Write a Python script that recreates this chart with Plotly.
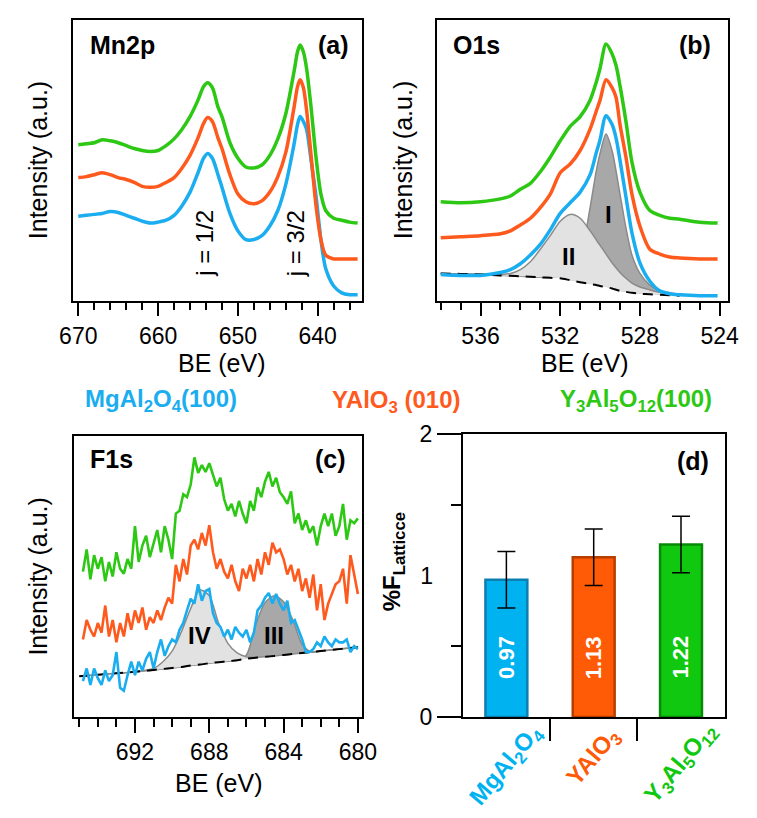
import plotly.graph_objects as go

W, H = 757, 818
FONT = "Liberation Sans, Arial, sans-serif"
BLUE = "#1AADEF"
ORANGE = "#FF5A1E"
GREEN = "#2CC814"
DARK_FILL = "#A8A8A8"
LIGHT_FILL = "#E2E2E2"
OUTLINE = "#8A8A8A"

# ---------------- (a) Mn2p ----------------
MN_BE = [670, 669, 668, 667, 666, 665, 664, 663, 662, 661, 660, 659, 658, 657, 656, 655,
         654.3, 653.8, 653.2, 652.5, 652, 651, 650, 649, 648, 647, 646, 645, 644, 643,
         642.5, 642.2, 641.8, 641.4, 640.8, 640.2, 639.6, 639, 638, 637, 636, 635]
MN_BLUE = [87, 88, 89, 90, 92, 91, 88, 85, 82, 80, 81, 83, 88, 98, 112, 132,
           147, 152, 147, 130, 117, 90, 72, 63, 63, 67, 77, 93, 120, 160,
           183, 190, 185, 177, 143, 107, 63, 33, 15, 8, 6, 6]
MN_ORANGE = [127, 128, 130, 132, 130, 127, 125, 122, 118, 117, 118, 122, 127, 137, 150, 168,
             183, 189, 185, 168, 157, 130, 110, 102, 100, 103, 112, 128, 153, 198,
             222, 228, 220, 197, 147, 97, 63, 47, 43, 43, 43, 43]
MN_GREEN = [161, 162, 163, 166, 165, 163, 160, 157, 155, 154, 155, 160, 167, 177, 190, 207,
            221, 225, 220, 200, 190, 163, 147, 138, 137, 140, 150, 167, 193, 235,
            258, 264, 257, 240, 197, 147, 110, 93, 85, 83, 81, 80]

# ---------------- (b) O1s ----------------
O1S_BE = [538, 537, 536, 535, 534.5, 534, 533.5, 533, 532.5, 532, 531.5, 531, 530.5, 530.2,
          530, 529.7, 529.4, 529.2, 529, 528.7, 528.4, 528, 527.5, 527, 526.5, 526, 525, 524.1]
O1S_BLUE = [27, 26, 26, 29, 32, 38, 47, 58, 73, 90, 101, 112, 130, 152,
            166, 191, 182, 168, 145, 107, 70, 39, 20, 10, 7, 6, 5, 5]
O1S_ORANGE = [65, 66, 67, 69, 72, 78, 85, 96, 110, 132, 141, 155, 177, 195,
              207, 228, 220, 210, 182, 148, 110, 77, 53, 48, 45, 44, 43, 43]
O1S_GREEN = [102, 101, 102, 105, 108, 115, 121, 133, 148, 165, 180, 190, 207, 225,
             240, 265, 255, 243, 222, 185, 143, 112, 93, 88, 85, 84, 81, 80]
O1S_FIT_BE = [538, 537, 536, 535, 534.5, 534, 533.5, 533, 532.5, 532, 531.5, 531, 530.5, 530.2,
              530, 529.7, 529.4, 529, 528.7, 528.4, 528, 527.5, 527, 526.5, 526]
O1S_BG = [28, 27.5, 27, 26, 25.5, 25, 24.5, 24, 23.5, 23, 21, 19, 17, 16,
          15, 14, 12.5, 10, 9, 8, 7, 6.5, 6, 5.5, 5]
O1S_PEAK_II = [28, 27.5, 27.2, 27, 28, 32, 40, 53, 67, 82, 89, 85, 72, 63,
               57, 48, 39, 29, 23, 18, 14, 11, 8.5, 7, 5.5]
O1S_PEAK_I = [28, 27.5, 27, 26, 25.5, 25, 24.5, 24, 24, 25, 30, 45, 96, 133,
              152, 172, 155, 110, 75, 47, 28, 16, 10, 8, 6]

# ---------------- (c) F1s ----------------
F1S_START, F1S_STEP = 694.8, 0.2
F1S_GREEN = [150, 173, 142, 167, 153, 165, 140, 160, 145, 170, 153, 148, 163, 153, 197, 160, 177, 187, 165, 180,
             193, 170, 197, 183, 163, 210, 213, 230, 227, 240, 268, 252, 260, 253, 262, 250, 238, 247, 225, 213,
             220, 207, 223, 210, 200, 223, 213, 237, 227, 243, 253, 238, 247, 232, 227, 220, 233, 200, 210, 193,
             203, 190, 197, 177, 197, 210, 197, 210, 187, 197, 220, 183, 203, 200, 205]
F1S_ORANGE = [80, 100, 90, 83, 97, 87, 115, 83, 100, 77, 97, 83, 107, 90, 110, 97, 113, 90, 103, 97,
              110, 100, 113, 123, 117, 157, 140, 163, 147, 177, 183, 173, 190, 177, 198, 170, 153, 163, 150, 143,
              157, 140, 130, 153, 143, 157, 140, 163, 147, 170, 157, 180, 170, 173, 163, 147, 157, 140, 153, 130,
              143, 123, 147, 110, 137, 100, 117, 127, 137, 140, 153, 117, 167, 147, 127]
F1S_BLUE = [37, 50, 33, 50, 40, 33, 48, 37, 43, 67, 30, 27, 43, 57, 43, 57, 48, 60, 67, 50,
            67, 80, 63, 73, 80, 77, 90, 97, 110, 122, 117, 137, 120, 130, 132, 107, 97, 93, 83, 90,
            80, 93, 87, 83, 90, 77, 87, 110, 115, 123, 128, 117, 127, 117, 110, 120, 97, 100, 90, 80,
            67, 67, 70, 77, 73, 83, 77, 73, 80, 77, 77, 80, 67, 73, 70]
F1S_BE = [round(F1S_START - F1S_STEP * i, 1) for i in range(len(F1S_BLUE))]
F1S_FIT_BE = [695, 694, 693, 692, 691.5, 691, 690.5, 690, 689.5, 689, 688.5, 688, 687.5, 687,
              686.5, 686, 685.5, 685, 684.5, 684, 683.5, 683, 682.5, 682, 681, 680]
F1S_BG = [42, 43.5, 45, 46.5, 47.5, 48.5, 49.5, 50.5, 51.5, 53, 54, 55.5, 56.5, 57.5,
          58.5, 60, 61, 62, 63, 64, 65, 66, 67, 68, 70, 72]
F1S_PEAK_IV = [42, 43.5, 45, 46.5, 48, 50, 57, 68, 88, 112, 131, 125, 97, 76,
               66, 62, 61.5, 62, 63, 64, 65, 66, 67, 68, 70, 72]
F1S_PEAK_III = [42, 43.5, 45, 46.5, 47.5, 48.5, 49.5, 50.5, 51.5, 53, 54, 55.5, 56.5, 57.5,
                58.5, 64, 95, 118, 125, 119, 100, 75, 67, 68, 70, 72]

# ---------------- (d) bars ----------------
CATS = ["MgAl2O4", "YAlO3", "Y3Al5O12"]
CAT_LABELS = ["MgAl<sub>2</sub>O<sub>4</sub>", "YAlO<sub>3</sub>", "Y<sub>3</sub>Al<sub>5</sub>O<sub>12</sub>"]
F_LATTICE = [0.97, 1.13, 1.22]
F_ERR = [0.2, 0.2, 0.2]
BAR_COLORS = ["#00B2F0", "#FF5A05", "#10C810"]
BAR_EDGES = ["#0A7FB0", "#B83E00", "#078A07"]
Y_TICKS_D = [0, 1, 2]
SEPARATORS = [0.5, 1.5]

LEGEND = ["MgAl<sub>2</sub>O<sub>4</sub>(100)", "YAlO<sub>3</sub> (010)", "Y<sub>3</sub>Al<sub>5</sub>O<sub>12</sub>(100)"]
SERIES_COLORS = [BLUE, ORANGE, GREEN]

fig = go.Figure()


def line(x, y, color, width, ax, shape="spline", dash=None):
    fig.add_trace(go.Scatter(x=x, y=y, mode="lines", xaxis=ax[0], yaxis=ax[1],
                             line=dict(color=color, width=width, shape=shape, dash=dash, smoothing=0.8),
                             showlegend=False, hoverinfo="skip"))


def filled(x, base, y, fillcolor, ax):
    fig.add_trace(go.Scatter(x=x, y=base, mode="lines", xaxis=ax[0], yaxis=ax[1],
                             line=dict(width=0, shape="spline", smoothing=0.8),
                             showlegend=False, hoverinfo="skip"))
    fig.add_trace(go.Scatter(x=x, y=y, mode="lines", xaxis=ax[0], yaxis=ax[1], fill="tonexty",
                             fillcolor=fillcolor,
                             line=dict(color=OUTLINE, width=1.5, shape="spline", smoothing=0.8),
                             showlegend=False, hoverinfo="skip"))


# (a)
for ys, c in zip([MN_BLUE, MN_ORANGE, MN_GREEN], SERIES_COLORS):
    line(MN_BE, ys, c, 3.5, ("x", "y"))

# (b)
filled(O1S_FIT_BE, O1S_BG, O1S_PEAK_I, DARK_FILL, ("x2", "y2"))
filled(O1S_FIT_BE, O1S_BG, O1S_PEAK_II, LIGHT_FILL, ("x2", "y2"))
line(O1S_FIT_BE, O1S_BG, "black", 2, ("x2", "y2"), dash="10px,7px")
for ys, c in zip([O1S_BLUE, O1S_ORANGE, O1S_GREEN], SERIES_COLORS):
    line(O1S_BE, ys, c, 3.5, ("x2", "y2"))

# (c)
filled(F1S_FIT_BE, F1S_BG, F1S_PEAK_III, DARK_FILL, ("x3", "y3"))
filled(F1S_FIT_BE, F1S_BG, F1S_PEAK_IV, LIGHT_FILL, ("x3", "y3"))
line(F1S_FIT_BE, F1S_BG, "black", 2, ("x3", "y3"), dash="10px,7px")
for ys, c in zip([F1S_BLUE, F1S_ORANGE, F1S_GREEN], SERIES_COLORS):
    line(F1S_BE, ys, c, 2.6, ("x3", "y3"), shape="linear")

# (d)
fig.add_trace(go.Bar(x=CATS, y=F_LATTICE, width=0.48, xaxis="x4", yaxis="y4",
                     marker=dict(color=BAR_COLORS, line=dict(color=BAR_EDGES, width=2.5)),
                     error_y=dict(type="data", array=F_ERR, color="black", thickness=1.5, width=9),
                     showlegend=False, hoverinfo="skip"))
# empty helper traces so that the overlay axes (category separators, "1" label) get drawn
fig.add_trace(go.Scatter(x=[], y=[], xaxis="x5", yaxis="y4", showlegend=False, hoverinfo="skip"))
fig.add_trace(go.Scatter(x=[], y=[], xaxis="x4", yaxis="y5", showlegend=False, hoverinfo="skip"))


def dom_x(a, b):
    return [a / W, b / W]


def dom_y(top, bottom):
    return [1 - bottom / H, 1 - top / H]


tickfont = dict(family=FONT, size=23, color="black")
common_x = dict(showline=True, mirror=True, linecolor="black", linewidth=1.5, ticks="outside",
                ticklen=14, tickwidth=1.5, tickcolor="black", tickfont=tickfont, showgrid=False,
                zeroline=False, ticklabelstandoff=0)
common_y = dict(showline=True, mirror=True, linecolor="black", linewidth=1.5, ticks="",
                showticklabels=False, showgrid=False, zeroline=False, range=[0, 290])
minor = dict(ticks="outside", ticklen=8, tickwidth=1.5, tickcolor="black", showgrid=False)

fig.update_layout(
    width=W, height=H, autosize=False, margin=dict(l=0, r=0, t=0, b=0),
    paper_bgcolor="white", plot_bgcolor="white", font=dict(family=FONT, color="black"),
    xaxis=dict(domain=dom_x(62, 362), anchor="y", range=[670.7, 634.5], tickvals=[670, 660, 650, 640],
               minor=dict(dtick=2, **minor), **common_x),
    yaxis=dict(domain=dom_y(7, 297), anchor="x", **common_y),
    xaxis2=dict(domain=dom_x(440, 742), anchor="y2", range=[538.2, 523.6], tickvals=[536, 532, 528, 524],
                minor=dict(dtick=1, **minor), **common_x),
    yaxis2=dict(domain=dom_y(7, 297), anchor="x2", **common_y),
    xaxis3=dict(domain=dom_x(63, 362), anchor="y3", range=[695.3, 679.8], tickvals=[692, 688, 684, 680],
                minor=dict(dtick=1, **minor), **common_x),
    yaxis3=dict(domain=dom_y(437, 727), anchor="x3", **common_y),
    xaxis4=dict(domain=dom_x(467, 739), anchor="y4", type="category", categoryarray=CATS,
                range=[-0.5, 2.5], showline=True, mirror=True, linecolor="black", linewidth=1.5,
                ticks="", showticklabels=False, showgrid=False, zeroline=False),
    yaxis4=dict(domain=dom_y(435, 727), anchor="x4", range=[0, 2], showline=True, mirror=True,
                linecolor="black", linewidth=1.5, tickvals=[Y_TICKS_D[0], Y_TICKS_D[2]], ticks="outside",
                ticklen=24, tickwidth=1.5, tickcolor="black", tickfont=tickfont, showgrid=False,
                zeroline=False,
                minor=dict(tickvals=[0.5, 1.5], ticks="outside", ticklen=10, tickwidth=1.5,
                           tickcolor="black", showgrid=False)),
    xaxis5=dict(overlaying="x4", anchor="y4", range=[-0.5, 2.5], tickvals=SEPARATORS, ticks="outside",
                ticklen=23, tickwidth=1.5, tickcolor="black", showticklabels=False, showline=False,
                showgrid=False, zeroline=False, side="bottom"),
    yaxis5=dict(overlaying="y4", anchor="x4", range=[0, 2], tickvals=[Y_TICKS_D[1]], ticks="outside",
                ticklen=24, tickcolor="rgba(0,0,0,0)", tickfont=tickfont, showline=False, showgrid=False,
                zeroline=False, side="left"),
)

ann = []


def text(x, y, t, size, bold=False, color="black", angle=0, xref="paper", yref="paper"):
    if xref == "paper":
        x = x / W
    if yref == "paper":
        y = 1 - y / H
    ann.append(dict(x=x, y=y, xref=xref, yref=yref, text=f"<b>{t}</b>" if bold else t, showarrow=False,
                    xanchor="center", yanchor="middle", textangle=angle,
                    font=dict(family=FONT, size=size, color=color)))


# panel labels
text(114, 33, "Mn2p", 25, True)
text(333, 33, "(a)", 25, True)
text(481, 33, "O1s", 25, True)
text(708, 33, "(b)", 25, True)
text(102, 461, "F1s", 25, True)
text(330, 461, "(c)", 25, True)
text(706, 463, "(d)", 25, True)

# axis titles
for xc, yc in [(26, 152), (405, 152), (25, 582)]:
    text(xc, yc, "Intensity (a.u.)", 25, angle=-90)
for xc, yc in [(217, 361), (594, 361), (214, 795)]:
    text(xc, yc, "BE (eV)", 25)
text(396, 567, "%F<sub>Latticce</sub>", 24, True, angle=-90)

# legend row
for (xc, yc), t, c in zip([(154, 400), (398, 401), (647, 400)], LEGEND, SERIES_COLORS):
    text(xc, yc, t, 24, True, color=c)

# peak labels
text(654.2, 59, "j = 1/2", 24, angle=-90, xref="x", yref="y")
text(642.75, 59, "j = 3/2", 24, angle=-90, xref="x", yref="y")
text(531.6, 46, "II", 24, True, xref="x2", yref="y2")
text(529.6, 89, "I", 24, True, xref="x2", yref="y2")
text(688.5, 84, "IV", 24, True, xref="x3", yref="y3")
text(684.5, 84, "III", 24, True, xref="x3", yref="y3")

# bar values and category labels
for cat, v in zip(CATS, F_LATTICE):
    text(cat, 0.42, f"{v:.2f}", 22, True, color="white", angle=-90, xref="x4", yref="y4")
for (cat, lab, c, yc) in zip(CATS, CAT_LABELS, BAR_COLORS, [777, 769, 775]):
    ann.append(dict(x=cat, y=1 - yc / H, xref="x4", yref="paper", text=f"<b>{lab}</b>", showarrow=False,
                    xanchor="center", yanchor="middle", textangle=-50,
                    font=dict(family=FONT, size=24, color=c)))

fig.update_layout(annotations=ann)
fig.write_html("out.html")
